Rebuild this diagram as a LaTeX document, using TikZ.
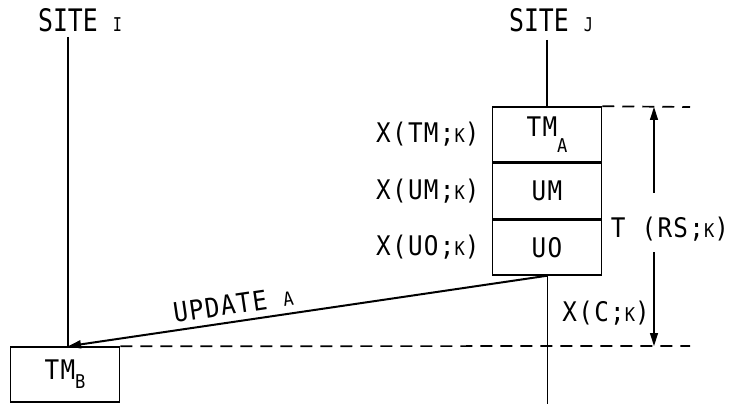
\documentclass[tikz,border=0pt]{standalone}
\usepackage{fontspec}
\setmainfont{DejaVu Sans Mono}[FakeStretch=0.9, LetterSpace=5]
\newfontfamily\sitefont{DejaVu Sans Mono}[FakeStretch=0.8]
\usetikzlibrary{%
	arrows.meta,%
	positioning,%
}
\tikzset{
	>={Triangle[length=13pt,width=8pt]},%
	sitelabel/.style={%
			font={\sitefont\fontsize{31}{31}\selectfont},%
			inner sep=0pt},%
	cellbox/.style={%
			draw,%
			rectangle,%
			line width=1.5pt,%
			minimum width=109pt,%
			minimum height=55pt,%
			inner sep=0pt},%
	costlabel/.style={%
			inner sep=0pt},%
	siteline/.style={%
			line width=1.2pt},%
	boundline/.style={%
			line width=1.7pt,%
			dash pattern=on 12pt off 8pt},%
	dimline/.style={%
			line width=1.3pt},%
}
\newcommand{\sml}[1]{{\fontsize{19}{19}\selectfont #1}}
\newcommand{\subtm}[2]{TM\raisebox{#1}{\fontsize{19}{19}\selectfont #2}}

\begin{document}
\begin{tikzpicture}[x=1pt, y=-1pt, font={\fontsize{27}{27}\selectfont}]%
	\useasboundingbox (0,0) rectangle (729,404);

	% sites
	\node[sitelabel] (sitei) at (80,20) {SITE \sml{I}};
	\node[sitelabel] (sitej) at (551,20) {SITE \sml{J}};
	\coordinate (itop) at (68,37);

	% update messages at site j
	\node[cellbox] (tma) at (547,134.5) {\subtm{-16pt}{A}};
	\node[cellbox] (um) [below=0pt of tma] {UM};
	\node[cellbox] (uo) [below=0pt of um] {UO};

	\node[costlabel] (xtm) [left=12pt of tma] {X(TM;\sml{K})};
	\node[costlabel] (xum) [left=12pt of um] {X(UM;\sml{K})};
	\node[costlabel] (xuo) [left=12pt of uo] {X(UO;\sml{K})};

	% manager at site i
	\node[cellbox] (tmb) at (65,374.5) {\subtm{-9pt}{B}};

	% time bounds
	\coordinate (dtop) at (654,107);
	\coordinate (dbot) at (654,346);
	\coordinate (jbot) at (547,404);
	\node[costlabel] (trs) at (670,229) {T (RS;\sml{K})};
	\node[costlabel, anchor=east] (xc) at (650,313) {X(C;\sml{K})};

	\draw[siteline] (sitej.south -| tma.north) ++(0,8) -- (tma.north);
	\draw[siteline] (itop) -- (itop |- tmb.north);
	\draw[siteline, line width=0.8pt] (uo.south) -- (jbot);

	\draw[boundline] (tma.north east) -- (dtop -| 690,0);
	\draw[boundline] (tmb.north east) -- (dbot -| 690,0);

	\draw[->, dimline] ([yshift=24pt]trs.north -| dtop) -- (dtop);
	\draw[->, dimline] ([yshift=-11pt]trs.south -| dbot) -- (dbot);

	\draw[<-, line width=2pt] (itop |- tmb.north) -- node[sloped, above=3pt, pos=0.35] {UPDATE \sml{A}} (uo.south);
\end{tikzpicture}
\end{document}
